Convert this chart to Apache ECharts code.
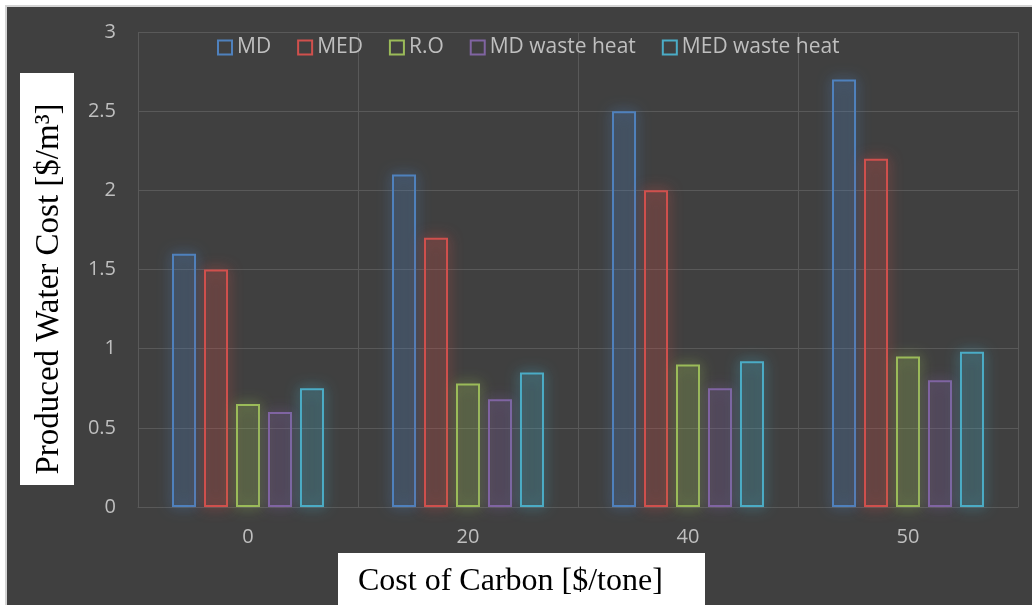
<!DOCTYPE html>
<html>
<head>
<meta charset="utf-8">
<script src="https://cdn.jsdelivr.net/npm/echarts@6/dist/echarts.min.js"></script>
<style>
html,body{margin:0;padding:0;background:#ffffff;}
#chart{width:1032px;height:605px;}
</style>
</head>
<body>
<div id="chart"></div>
<script>
const categories = ['0', '20', '40', '50'];
const seriesNames = ['MD', 'MED', 'R.O', 'MD waste heat', 'MED waste heat'];
const mdValues = [1.6, 2.1, 2.5, 2.7];
const medValues = [1.5, 1.7, 2.0, 2.2];
const roValues = [0.65, 0.78, 0.9, 0.95];
const mdWasteHeatValues = [0.6, 0.68, 0.75, 0.8];
const medWasteHeatValues = [0.75, 0.85, 0.92, 0.98];
const yTicks = [0, 0.5, 1, 1.5, 2, 2.5, 3];
const xTitle = 'Cost of Carbon [$/tone]';
const yTitle = 'Produced Water Cost [$/m³]';

const colors = ['#4f81bd', '#d0504d', '#9bbb59', '#8064a2', '#4bacc6'];
const values = [mdValues, medValues, roValues, mdWasteHeatValues, medWasteHeatValues];

function rgba(hex, a) {
  const n = parseInt(hex.slice(1), 16);
  return 'rgba(' + ((n >> 16) & 255) + ',' + ((n >> 8) & 255) + ',' + (n & 255) + ',' + a + ')';
}

const series = seriesNames.map((name, i) => ({
  name: name,
  type: 'bar',
  data: values[i],
  barWidth: 24,
  barGap: '33.3%',
  itemStyle: {
    color: rgba(colors[i], 0.12),
    borderColor: colors[i],
    borderWidth: 2,
    shadowBlur: 14,
    shadowColor: rgba(colors[i], 1)
  },
  emphasis: { disabled: true }
}));

const chart = echarts.init(document.getElementById('chart'));
chart.setOption({
  backgroundColor: '#404040',
  animation: false,
  textStyle: { fontFamily: 'Open Sans' },
  legend: {
    left: 212,
    top: 32,
    itemWidth: 14,
    itemHeight: 14,
    itemGap: 26,
    icon: 'rect',
    itemStyle: { shadowBlur: 0, borderWidth: 2, color: 'rgba(0,0,0,0)' },
    textStyle: { color: '#bfbfbf', fontSize: 21, fontFamily: 'Open Sans' },
    data: seriesNames
  },
  grid: { left: 138, right: 14, top: 32, bottom: 98, containLabel: false },
  xAxis: {
    type: 'category',
    data: categories,
    axisLine: { show: true, lineStyle: { color: '#595959', width: 1 } },
    axisTick: { show: false },
    splitLine: { show: true, lineStyle: { color: '#595959', width: 1 } },
    axisLabel: { color: '#bfbfbf', fontSize: 20, margin: 20, fontFamily: 'Open Sans' }
  },
  yAxis: {
    type: 'value',
    min: yTicks[0],
    max: yTicks[yTicks.length - 1],
    interval: 0.5,
    axisLine: { show: false },
    axisTick: { show: false },
    splitLine: { show: true, lineStyle: { color: '#595959', width: 1 } },
    axisLabel: { color: '#bfbfbf', fontSize: 20, margin: 22, fontFamily: 'Open Sans' }
  },
  graphic: [
    { type: 'rect', shape: { x: 0, y: 0, width: 1032, height: 5 }, style: { fill: '#ffffff' }, silent: true },
    { type: 'rect', shape: { x: 0, y: 0, width: 5, height: 605 }, style: { fill: '#ffffff' }, silent: true },
    { type: 'rect', shape: { x: 5, y: 5, width: 1027, height: 2 }, style: { fill: '#d4d4d4' }, silent: true },
    { type: 'rect', shape: { x: 5, y: 5, width: 2, height: 600 }, style: { fill: '#d4d4d4' }, silent: true },
    { type: 'rect', shape: { x: 20, y: 73, width: 54, height: 412 }, style: { fill: '#ffffff' }, silent: true },
    { type: 'text', x: 49, y: 289, rotation: Math.PI / 2,
      style: { text: yTitle, fill: '#000000', font: '33px "Liberation Serif"', textAlign: 'center', textVerticalAlign: 'middle' }, silent: true },
    { type: 'rect', shape: { x: 338, y: 553, width: 367, height: 52 }, style: { fill: '#ffffff' }, silent: true },
    { type: 'text', x: 358, y: 582,
      style: { text: xTitle, fill: '#000000', font: '32px "Liberation Serif"', textAlign: 'left', textVerticalAlign: 'middle' }, silent: true }
  ],
  series: series
});
</script>
</body>
</html>
